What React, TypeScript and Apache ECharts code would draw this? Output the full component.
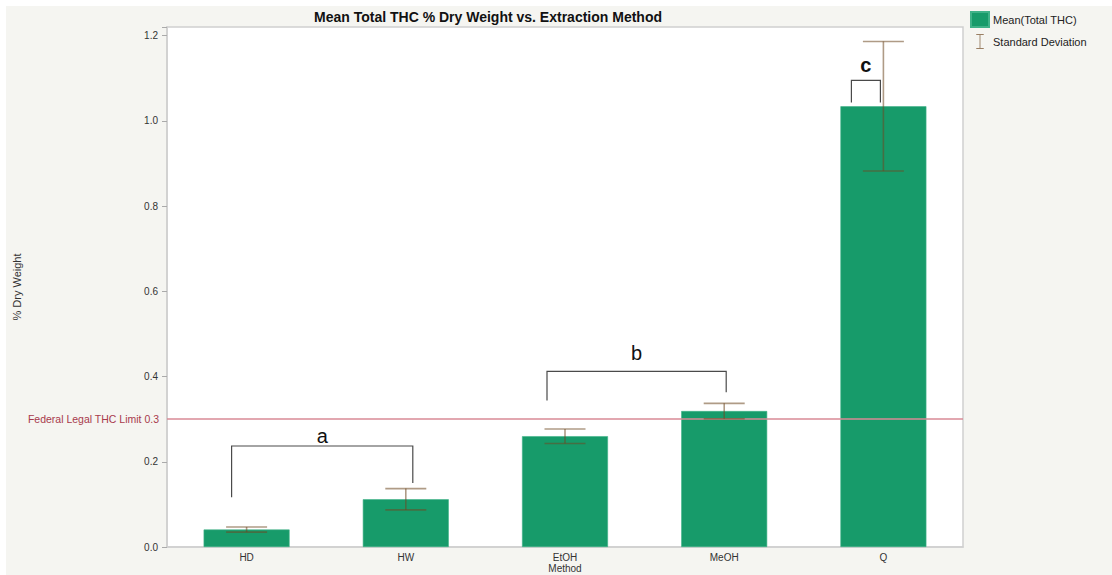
import React, { useEffect, useRef } from "react";
import * as echarts from "echarts";

// ---- Data ----
const methods = ["HD", "HW", "EtOH", "MeOH", "Q"];
const meanTHC = [0.041, 0.112, 0.260, 0.319, 1.034];
const sdTHC = [0.006, 0.025, 0.017, 0.018, 0.152];
const yTicks = [0, 0.2, 0.4, 0.6, 0.8, 1.0, 1.2];
const federalLimit = 0.3;

// significance groups (brackets)
const groupLabels = ["a", "b", "c"];
const groupStart = ["HD", "EtOH", "Q"];
const groupEnd = ["HW", "MeOH", "Q"];
const groupTop = [0.237, 0.412, 1.095];
const groupLeftEnd = [0.117, 0.344, 1.043];
const groupRightEnd = [0.150, 0.363, 1.043];

// pixel styling for brackets (not data)
const bracketStartOffset = [-15, -18, -32];
const bracketEndOffset = [7, 2, -3];
const bracketLabelGap = [3, 11, 8];
const bracketLabelBold = [false, false, true];

const FONT = "'Liberation Sans', Arial, Helvetica, sans-serif";
const GREEN = "#179b6a";

export default function App() {
  const ref = useRef<HTMLDivElement>(null);
  useEffect(() => {
    if (!ref.current) return;
    const chart = echarts.init(ref.current, null, { renderer: "svg" });

    const errData = methods.map((m, i) => [i, meanTHC[i] - sdTHC[i], meanTHC[i] + sdTHC[i]]);
    const bracketData = groupLabels.map((g, i) => [
      methods.indexOf(groupStart[i]),
      methods.indexOf(groupEnd[i]),
      groupTop[i],
      groupLeftEnd[i],
      groupRightEnd[i],
      i,
    ]);

    const option: any = {
      animation: false,
      backgroundColor: "transparent",
      textStyle: { fontFamily: FONT },
      title: {
        text: "Mean Total THC % Dry Weight vs. Extraction Method",
        left: 486,
        top: 8,
        padding: 2,
        textAlign: "center",
        textStyle: { fontFamily: FONT, fontSize: 14, fontWeight: "bold", color: "#111" },
      },
      graphic: [
        {
          type: "rect",
          z: -10,
          silent: true,
          shape: { x: 6, y: 6, width: 1106, height: 569 },
          style: { fill: "#f5f5f1" },
        },
      ],
      legend: {
        orient: "vertical",
        left: 970,
        top: 11,
        padding: 0,
        itemWidth: 18,
        itemHeight: 15,
        itemGap: 6,
        textStyle: { fontFamily: FONT, fontSize: 11, color: "#222", padding: [0, 0, 0, -1] },
        data: [
          { name: "Mean(Total THC)", icon: "rect", itemStyle: { color: GREEN } },
          {
            name: "Standard Deviation",
            icon: "path://M0,0h10v1.2h-4.4v17.6h4.4v1.2h-10v-1.2h4.4v-17.6h-4.4z",
            itemStyle: { color: "#9a7f63" },
          },
        ],
      },
      grid: {
        left: 167,
        top: 27,
        right: 149,
        bottom: 28,
        outerBoundsMode: "none",
        containLabel: false,
        show: true,
        backgroundColor: "#ffffff",
        borderColor: "#cfcfcf",
        borderWidth: 1.5,
      },
      xAxis: {
        type: "category",
        data: methods,
        name: "Method",
        nameLocation: "middle",
        nameGap: 16,
        nameMoveOverlap: false,
        nameTextStyle: { fontFamily: FONT, fontSize: 10, color: "#333", lineHeight: 11 },
        axisLine: { show: true, lineStyle: { color: "#cfcfcf", width: 1.5 } },
        axisTick: { show: false },
        axisLabel: { fontFamily: FONT, fontSize: 10, color: "#333", margin: 5 },
      },
      yAxis: {
        type: "value",
        min: 0,
        max: 1.22,
        interval: 0.2,
        name: "% Dry Weight",
        nameLocation: "middle",
        nameGap: 145,
        nameMoveOverlap: false,
        nameRotate: 90,
        nameTextStyle: { fontFamily: FONT, fontSize: 11, color: "#333" },
        splitLine: { show: false },
        axisLine: { show: true, lineStyle: { color: "#cfcfcf", width: 1.5 } },
        axisTick: { show: true, length: 5, lineStyle: { color: "#aaa" } },
        axisLabel: {
          fontFamily: FONT,
          fontSize: 10,
          color: "#333",
          margin: 9,
          formatter: (v: number) => (yTicks.some((t) => Math.abs(t - v) < 1e-6) ? v.toFixed(1) : ""),
        },
      },
      series: [
        {
          name: "Mean(Total THC)",
          type: "bar",
          data: meanTHC,
          barWidth: "54%",
          itemStyle: { color: GREEN, borderColor: "#3fb288", borderWidth: 0.6 },
          markLine: {
            silent: true,
            symbol: "none",
            lineStyle: { color: "#d98a96", width: 1.5, type: "solid" },
            label: {
              show: true,
              position: "start",
              distance: 8,
              formatter: "Federal Legal THC Limit " + federalLimit,
              color: "#a83a4c",
              fontFamily: FONT,
              fontSize: 10.5,
            },
            data: [{ yAxis: federalLimit }],
          },
          z: 2,
        },
        {
          name: "Standard Deviation",
          type: "custom",
          data: errData,
          z: 5,
          renderItem: (params: any, api: any) => {
            const i = api.value(0);
            const lo = api.coord([i, api.value(1)]);
            const hi = api.coord([i, api.value(2)]);
            const hw = 20.5;
            const style = { stroke: "rgba(110,72,35,0.55)", lineWidth: 1.6 };
            return {
              type: "group",
              children: [
                { type: "line", shape: { x1: lo[0], y1: lo[1], x2: hi[0], y2: hi[1] }, style },
                { type: "line", shape: { x1: lo[0] - hw, y1: lo[1], x2: lo[0] + hw, y2: lo[1] }, style },
                { type: "line", shape: { x1: hi[0] - hw, y1: hi[1], x2: hi[0] + hw, y2: hi[1] }, style },
              ],
            };
          },
        },
        {
          name: "groups",
          type: "custom",
          data: bracketData,
          z: 6,
          silent: true,
          renderItem: (params: any, api: any) => {
            const k = api.value(5);
            const s = api.value(0);
            const e = api.value(1);
            const top = api.value(2);
            const p1 = api.coord([s, top]);
            const p2 = api.coord([e, top]);
            const lEnd = api.coord([s, api.value(3)]);
            const rEnd = api.coord([e, api.value(4)]);
            const x1 = p1[0] + bracketStartOffset[k];
            const x2 = p2[0] + bracketEndOffset[k];
            const y = p1[1];
            const style = { stroke: "#4a4a4a", lineWidth: 1.2, fill: "none" };
            return {
              type: "group",
              children: [
                {
                  type: "polyline",
                  shape: { points: [[x1, lEnd[1]], [x1, y], [x2, y], [x2, rEnd[1]]] },
                  style,
                },
                {
                  type: "text",
                  style: {
                    text: groupLabels[k],
                    x: (x1 + x2) / 2,
                    y: y - bracketLabelGap[k] - 7,
                    align: "center",
                    verticalAlign: "middle",
                    fontFamily: FONT,
                    fontSize: 20,
                    fontWeight: bracketLabelBold[k] ? "bold" : "normal",
                    fill: "#111",
                  },
                },
              ],
            };
          },
        },
      ],
    };
    chart.setOption(option);
    return () => chart.dispose();
  }, []);
  return (
    <div
      ref={ref}
      style={{ position: "absolute", left: 0, top: 0, width: 1112, height: 575, background: "#ffffff" }}
    />
  );
}
